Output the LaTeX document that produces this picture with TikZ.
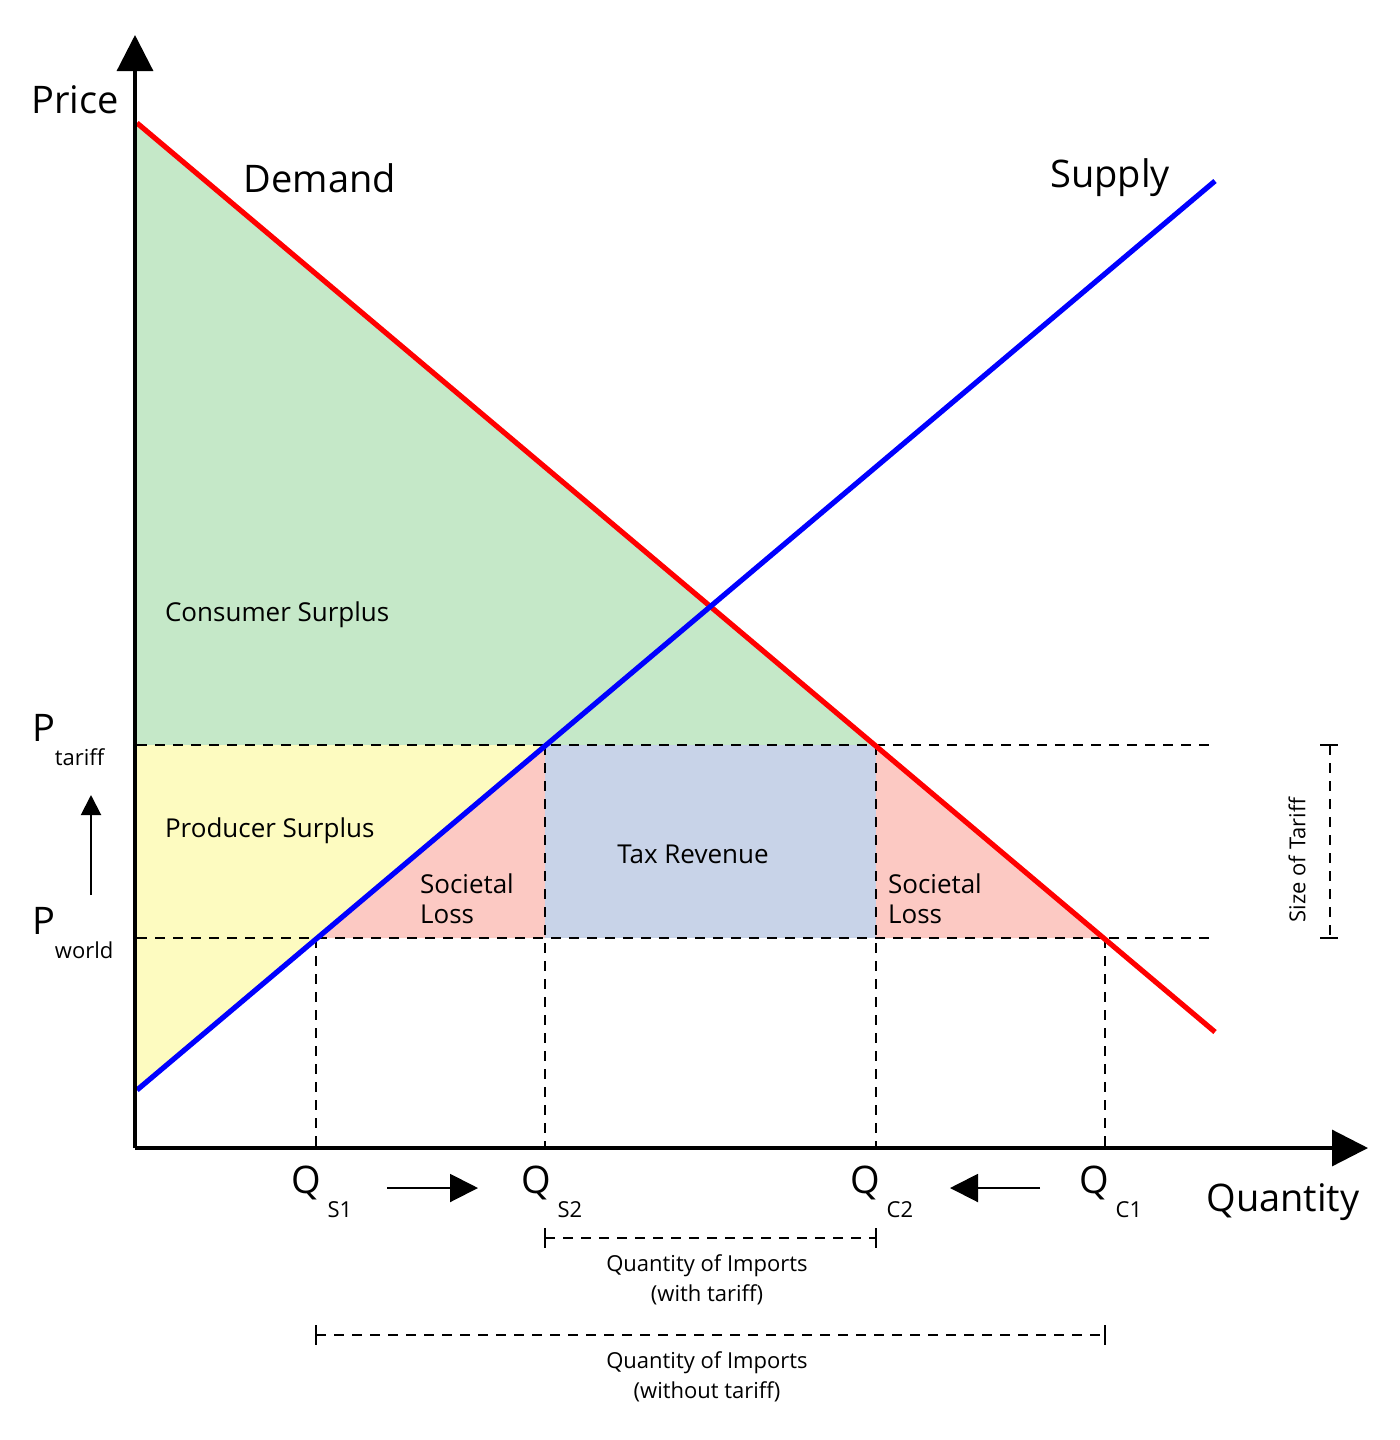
\documentclass[tikz,border=0pt]{standalone}
\usepackage{fontspec}
\setmainfont{Open Sans}
\usetikzlibrary{arrows.meta}
\begin{document}
\begin{tikzpicture}[x=0.5pt,y=-0.5pt,
 big/.style={font=\fontsize{19}{22}\selectfont},
 mid/.style={font=\fontsize{13}{15}\selectfont,align=left},
 small/.style={font=\fontsize{11}{15}\selectfont,align=center},
 dsh/.style={line width=0.8pt,dash pattern=on 5pt off 4pt},
 ax/.style={line width=1.6pt},
 tip/.style={-{Triangle[length=18pt,width=18pt]}}]
\useasboundingbox (0,0) rectangle (1400,1440);
\definecolor{cg}{HTML}{C5E8C8}\definecolor{cy}{HTML}{FDFBC0}
\definecolor{cp}{HTML}{FCC9C3}\definecolor{cb}{HTML}{C8D3E8}
\fill[cg] (137,123)--(876,745)--(137,745)--cycle;
\fill[cy] (137,745)--(545,745)--(137,1090)--cycle;
\fill[cp] (316,938)--(545,745)--(545,938)--cycle;
\fill[cb] (545,745) rectangle (876,938);
\fill[cp] (876,745)--(1105,938)--(876,938)--cycle;
\draw[dsh] (137,745)--(1215,745);
\draw[dsh] (137,938)--(1215,938);
\draw[dsh] (316,938)--(316,1148);
\draw[dsh] (545,745)--(545,1148);
\draw[dsh] (876,745)--(876,1148);
\draw[dsh] (1105,938)--(1105,1148);
\draw[red,line width=2.6pt] (137,123)--(1215,1032);
\draw[blue,line width=2.6pt] (137,1090)--(1215,181);
\draw[ax,tip] (135,1148)--(135,35);
\draw[ax,tip] (135,1148)--(1368,1148);
\node[big] (price) at (75,100) {Price};
\node[big] (quantity) at (1283,1202) {Quantity};
\node[big] (demand) at (320,178) {Demand};
\node[big] (supply) at (1110,178) {Supply};
\node[big,anchor=west] (pt) at (25,740) {P\raisebox{-1.2ex}{\fontsize{11}{13}\selectfont tariff}};
\node[big,anchor=west] (pw) at (25,933) {P\raisebox{-1.2ex}{\fontsize{11}{13}\selectfont world}};
\draw[line width=1pt,-{Triangle[length=10pt,width=10pt]}] (91,895)--(91,795);
\node[big] (qs1) at (322,1192) {Q\,\raisebox{-1.2ex}{\fontsize{11}{13}\selectfont S1}};
\node[big] (qs2) at (552,1192) {Q\,\raisebox{-1.2ex}{\fontsize{11}{13}\selectfont S2}};
\node[big] (qc2) at (882,1192) {Q\,\raisebox{-1.2ex}{\fontsize{11}{13}\selectfont C2}};
\node[big] (qc1) at (1111,1192) {Q\,\raisebox{-1.2ex}{\fontsize{11}{13}\selectfont C1}};
\draw[line width=1pt,-{Triangle[length=14pt,width=14pt]}] (387,1188)--(478,1188);
\draw[line width=1pt,-{Triangle[length=14pt,width=14pt]}] (1040,1188)--(950,1188);
\node[mid,anchor=west] (cs) at (158,615) {Consumer Surplus};
\node[mid,anchor=west] (ps) at (158,831) {Producer Surplus};
\node[mid] (tr) at (693,854) {Tax Revenue};
\node[mid,anchor=west] (sl1) at (413,899) {Societal\\Loss};
\node[mid,anchor=west] (sl2) at (881,899) {Societal\\Loss};
\draw[dsh] (1330,745)--(1330,938);
\draw[line width=0.8pt] (1320,745)--(1338,745) (1320,938)--(1338,938);
\node[small,rotate=90] (sot) at (1297,860) {Size of Tariff};
\draw[dsh] (545,1238)--(876,1238);
\draw[line width=0.8pt] (545,1228)--(545,1248) (876,1228)--(876,1248);
\node[small] (qi1) at (707,1280) {Quantity of Imports\\(with tariff)};
\draw[dsh] (316,1335)--(1105,1335);
\draw[line width=0.8pt] (316,1325)--(316,1345) (1105,1325)--(1105,1345);
\node[small] (qi2) at (707,1377) {Quantity of Imports\\(without tariff)};
\end{tikzpicture}
\end{document}
